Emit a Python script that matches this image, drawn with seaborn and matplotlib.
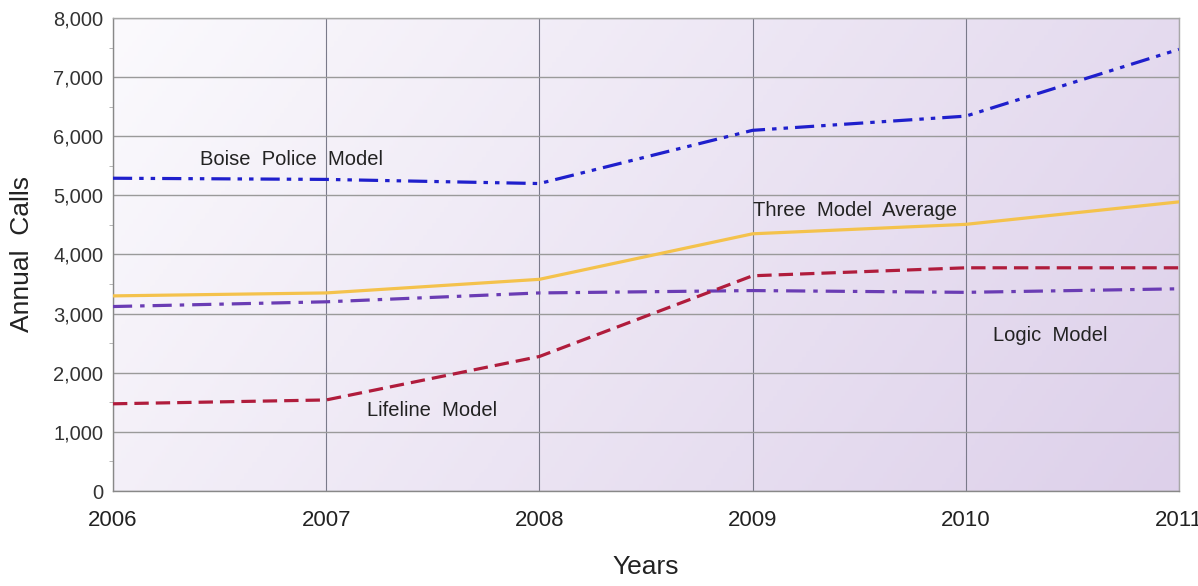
import numpy as np
import pandas as pd
import matplotlib
matplotlib.use("Agg")
import matplotlib.pyplot as plt
from matplotlib.colors import LinearSegmentedColormap
from matplotlib.ticker import MultipleLocator, StrMethodFormatter
import seaborn as sns

## values
years = [2006, 2007, 2008, 2009, 2010, 2011]
boise_police = [5290, 5270, 5200, 6100, 6340, 7470]
three_model_avg = [3300, 3350, 3580, 4350, 4510, 4890]
logic_model = [3120, 3200, 3350, 3390, 3360, 3420]
lifeline_model = [1475, 1540, 2275, 3640, 3775, 3775]

series = {
    "Boise Police Model": boise_police,
    "Three Model Average": three_model_avg,
    "Logic Model": logic_model,
    "Lifeline Model": lifeline_model,
}
df = pd.DataFrame([
    {"Years": y, "Annual Calls": v, "model": k}
    for k, vals in series.items() for y, v in zip(years, vals)
])

clx = {"Boise Police Model": "#1f1fcc",
       "Three Model Average": "#f4c24c",
       "Logic Model": "#6a3cb4",
       "Lifeline Model": "#b01c3c"}
lsx = {"Boise Police Model": (0, (6, 2.2, 1.4, 2.2, 1.4, 2.2)),
       "Three Model Average": "-",
       "Logic Model": (0, (6, 2.5, 1.4, 2.5)),
       "Lifeline Model": (0, (4.5, 2.2))}

sns.set_style("white")
plt.rcParams["font.family"] = ["Liberation Sans", "DejaVu Sans"]

fig = plt.figure(figsize=(11.98, 5.86), dpi=100)
ax = fig.add_axes([0.0943, 0.1621, 0.8898, 0.8072])

## lavender gradient background (lighter top-left, darker bottom-right)
gx, gy = np.meshgrid(np.linspace(0, 1, 256), np.linspace(0, 1, 256))
grad = 0.75 * gx + 0.25 * gy
cmap = LinearSegmentedColormap.from_list("bg", ["#fbfafd", "#ddd0ea"])
ax.imshow(grad, extent=[0, 1, 0, 1], transform=ax.transAxes, cmap=cmap,
          aspect="auto", zorder=0, origin="upper")

for k in series:
    sub = df[df.model == k]
    sns.lineplot(data=sub, x="Years", y="Annual Calls", ax=ax, color=clx[k],
                 linestyle=lsx[k], linewidth=2.3, zorder=3)

ax.set_xlim(2006, 2011)
ax.set_ylim(0, 8000)
ax.set_xticks(years)
ax.yaxis.set_major_locator(MultipleLocator(1000))
ax.yaxis.set_minor_locator(MultipleLocator(500))
ax.yaxis.set_major_formatter(StrMethodFormatter("{x:,.0f}"))

ax.grid(axis="y", which="major", color="#9a9a9a", linewidth=1.0, zorder=1)
ax.grid(axis="x", which="major", color="#7a7a8a", linewidth=0.8, zorder=1)
for sp in ax.spines.values():
    sp.set_color("#a8a8a8")
    sp.set_linewidth(1.0)
ax.spines["left"].set_color("#888888")
ax.spines["bottom"].set_color("#888888")

ax.tick_params(axis="y", which="major", direction="out", length=5,
               color="#888888", labelsize=14.5, labelcolor="#333333", pad=2)
ax.tick_params(axis="y", which="minor", direction="out", length=3,
               color="#aaaaaa", left=True)
ax.tick_params(axis="x", which="major", direction="out", length=9,
               color="#888888", labelsize=16, labelcolor="#222222", pad=5)
for lab in ax.get_xticklabels():
    lab.set_clip_on(False)

ax.set_xlabel("Years", fontsize=19, color="#222222")
ax.set_ylabel("Annual  Calls", fontsize=19, color="#222222")
ax.xaxis.set_label_coords(0.5, -0.135)
ax.yaxis.set_label_coords(-0.074, 0.5)

tkw = dict(fontsize=14.5, color="#222222", va="center", ha="left", zorder=4)
ax.text(2006.41, 5610, "Boise  Police  Model", **tkw)
ax.text(2009.0, 4745, "Three  Model  Average", **tkw)
ax.text(2010.13, 2630, "Logic  Model", **tkw)
ax.text(2007.19, 1370, "Lifeline  Model", **tkw)

fig.savefig("out.png", dpi=100)
